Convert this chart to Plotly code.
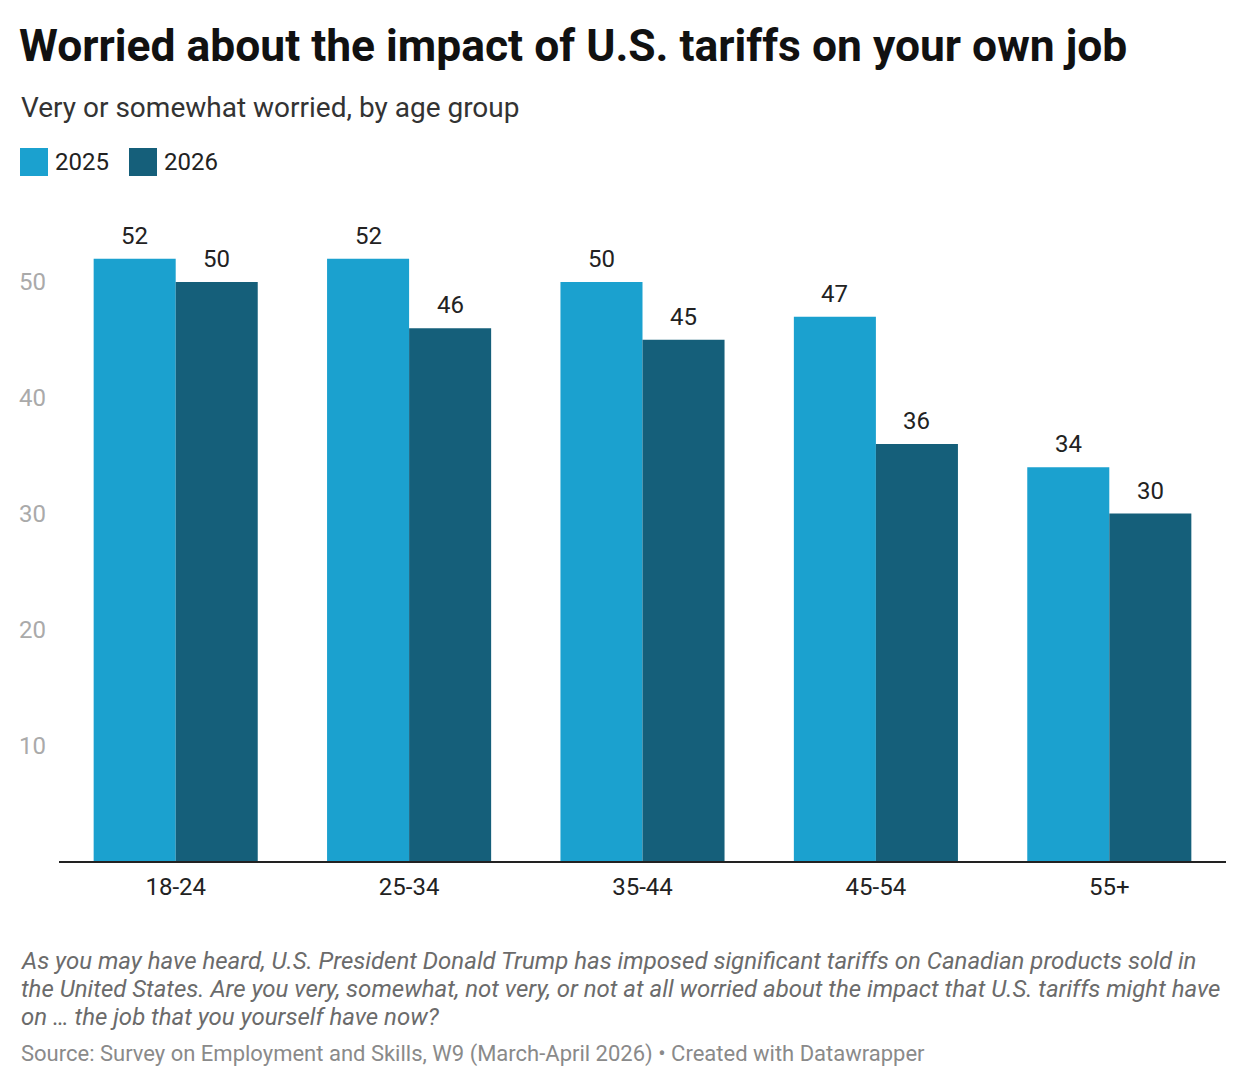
import plotly.graph_objects as go

# --- data ---
age_groups = ['18-24', '25-34', '35-44', '45-54', '55+']
worried_2025 = [52, 52, 50, 47, 34]
worried_2026 = [50, 46, 45, 36, 30]
y_ticks = [10, 20, 30, 40, 50]

c2025 = '#1ba1cf'
c2026 = '#155f7a'

W, H = 1247, 1088
OFF = 8  # page offset of the figure in the browser
L, T = 59 - OFF, 224 - OFF
R, B = W - (1226 - OFF), H - (861 - OFF)
pw, ph = W - L - R, H - T - B


# helpers: page pixel -> paper coords
def px_x(x):
    return (x - OFF - L) / pw


def px_y(y):
    return (H - B - (y - OFF)) / ph


fig = go.Figure()

fig.add_trace(go.Bar(
    x=age_groups, y=worried_2025, name='2025',
    marker=dict(color=c2025, line=dict(width=0)),
))
fig.add_trace(go.Bar(
    x=age_groups, y=worried_2026, name='2026',
    marker=dict(color=c2026, line=dict(width=0)),
))

# value labels above the bars (a bit more room than plotly's own outside text)
half = 41  # half a bar, in px
for vals, dx in [(worried_2025, -half), (worried_2026, half)]:
    for cat, v in zip(age_groups, vals):
        fig.add_annotation(x=cat, y=v, text=str(v), showarrow=False,
                           xshift=dx, yshift=23, yanchor='middle',
                           font=dict(size=24, color='#222'))

# legend drawn by hand (bigger swatches than plotly's own)
legend_items = [('2025', c2025, 20), ('2026', c2026, 129)]
for label, col, x0 in legend_items:
    fig.add_shape(type='rect', xref='paper', yref='paper',
                  x0=px_x(x0), x1=px_x(x0 + 28),
                  y0=px_y(176), y1=px_y(148),
                  fillcolor=col, line=dict(width=0))
    fig.add_annotation(text=label, xref='paper', yref='paper',
                       x=px_x(x0 + 33), y=px_y(162), xanchor='left', yanchor='middle',
                       showarrow=False, font=dict(size=24, color='#222'))

fig.add_annotation(
    text='Very or somewhat worried, by age group',
    xref='paper', yref='paper', x=px_x(19), y=px_y(107),
    xanchor='left', yanchor='middle', showarrow=False,
    font=dict(size=28, color='#333')
)

note_lines = [
    'As you may have heard, U.S. President Donald Trump has imposed significant tariffs on Canadian products sold in',
    'the United States. Are you very, somewhat, not very, or not at all worried about the impact that U.S. tariffs might have',
    'on … the job that you yourself have now?',
]
for i, line in enumerate(note_lines):
    fig.add_annotation(
        text=line, xref='paper', yref='paper',
        x=px_x(19), y=px_y(961 + 28 * i),
        xanchor='left', yanchor='middle', showarrow=False,
        font=dict(size=24, color='#6b6b6b', style='italic')
    )

fig.add_annotation(
    text='Source: Survey on Employment and Skills, W9 (March-April 2026) • Created with Datawrapper',
    xref='paper', yref='paper', x=px_x(19), y=px_y(1054),
    xanchor='left', yanchor='middle', showarrow=False,
    font=dict(size=22, color='#8a8a8a')
)

fig.update_layout(
    width=W, height=H,
    margin=dict(l=L, r=R, t=T, b=B),
    paper_bgcolor='white', plot_bgcolor='white',
    font=dict(family='Roboto, sans-serif'),
    title=dict(text='<b>Worried about the impact of U.S. tariffs on your own job</b>',
               x=(19 - OFF) / W, xref='container', xanchor='left',
               y=1 - (45 - OFF) / H, yref='container', yanchor='middle',
               font=dict(size=44.4, color='#111')),
    showlegend=False,
    barmode='group', bargap=0.297, bargroupgap=0,
    xaxis=dict(showline=True, linecolor='#222', linewidth=1.5,
               ticks='', tickfont=dict(size=24, color='#222'),
               ticklabelstandoff=3),
    yaxis=dict(range=[0, 55], tickvals=y_ticks, showgrid=False,
               zeroline=False, showline=False,
               tickfont=dict(size=24, color='#aaaaaa'),
               ticklabelstandoff=12),
)

fig.write_html('out.html')
